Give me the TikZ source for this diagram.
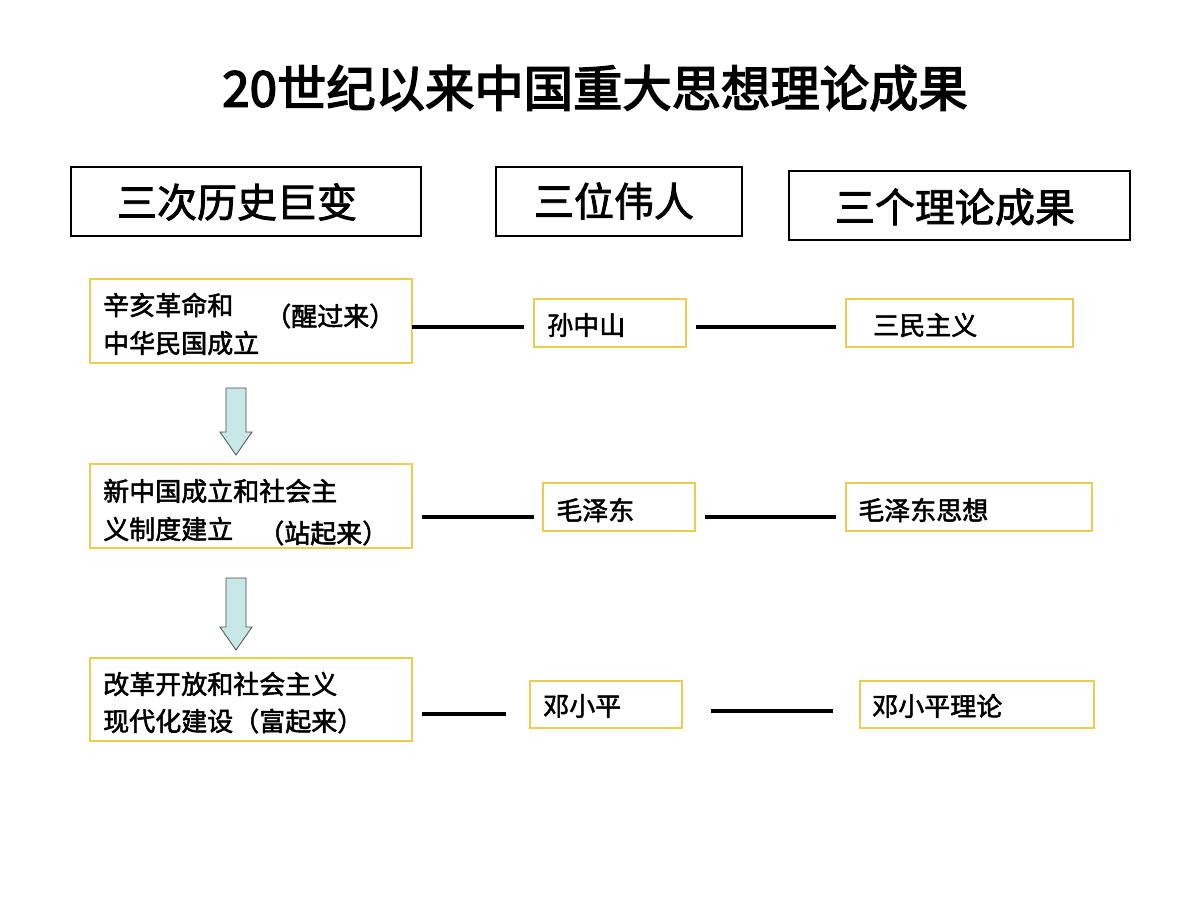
\documentclass[tikz,border=0pt]{standalone}
\usepackage{fontspec}
\newfontfamily\cjk{Noto Sans CJK SC}[FakeBold=2]
\newfontfamily\cjkt{Noto Sans CJK SC}[FakeBold=3]
\begin{document}
\begin{tikzpicture}[x=0.75pt,y=-0.75pt,
  hdr/.style={draw=black,line width=0.8pt},
  ybox/.style={draw={rgb,255:red,235;green,205;blue,80},line width=1pt},
  conn/.style={line width=2.4pt},
  txt/.style={anchor=west,inner sep=0pt,font=\cjk\fontsize{19.5}{22}\selectfont},
  htxt/.style={inner sep=0pt,font=\cjk\fontsize{30}{34}\selectfont},
  blk/.style={fill={rgb,255:red,200;green,232;blue,232},draw=black!70,line width=0.6pt}]
\useasboundingbox (0,0) rectangle (1200,900);
\node[font=\cjkt\fontsize{37}{40}\selectfont,inner sep=0pt] (title) at (595,88) {20世纪以来中国重大思想理论成果};
% headers
\draw[hdr] (71,167) rectangle (421,236); \node[htxt] (h1) at (237,202) {三次历史巨变};
\draw[hdr] (496,167) rectangle (742,236); \node[htxt] (h2) at (614,201) {三位伟人};
\draw[hdr] (789,171) rectangle (1130,240); \node[htxt] (h3) at (955,207) {三个理论成果};
% row 1
\node[ybox,minimum width=322pt*0.75,minimum height=84pt*0.75,inner sep=0pt] (L1) at (251,321) {};
\node[txt] (l1a) at (103,305) {辛亥革命和};
\node[txt] (l1b) at (265,316) {（醒过来）};
\node[txt] (l1c) at (103,343) {中华民国成立};
\node[ybox,minimum width=152pt*0.75,minimum height=48pt*0.75,inner sep=0pt] (M1) at (610,323) {};
\node[txt] (m1) at (547,325) {孙中山};
\node[ybox,minimum width=227pt*0.75,minimum height=48pt*0.75,inner sep=0pt] (R1) at (959.5,323) {};
\node[txt] (r1) at (873,325) {三民主义};
\coordinate (a1) at (412,327); \coordinate (b1) at (524,327);
\coordinate (c1) at (696,327); \coordinate (d1) at (836,327);
\draw[conn] (a1) -- (b1); \draw[conn] (c1) -- (d1);
% row 2
\node[ybox,minimum width=322pt*0.75,minimum height=84pt*0.75,inner sep=0pt] (L2) at (251,506) {};
\node[txt] (l2a) at (103,491) {新中国成立和社会主};
\node[txt] (l2b) at (103,529) {义制度建立};
\node[txt] (l2c) at (258,533) {（站起来）};
\node[ybox,minimum width=152pt*0.75,minimum height=48pt*0.75,inner sep=0pt] (M2) at (619,507) {};
\node[txt] (m2) at (556,510) {毛泽东};
\node[ybox,minimum width=246pt*0.75,minimum height=48pt*0.75,inner sep=0pt] (R2) at (969,507) {};
\node[txt] (r2) at (858,510) {毛泽东思想};
\coordinate (a2) at (422,517); \coordinate (b2) at (534,517);
\coordinate (c2) at (705,517); \coordinate (d2) at (836,517);
\draw[conn] (a2) -- (b2); \draw[conn] (c2) -- (d2);
% row 3
\node[ybox,minimum width=322pt*0.75,minimum height=83pt*0.75,inner sep=0pt] (L3) at (251,699.5) {};
\node[txt] (l3a) at (103,684) {改革开放和社会主义};
\node[txt] (l3b) at (103,721) {现代化建设（富起来）};
\node[ybox,minimum width=152pt*0.75,minimum height=47pt*0.75,inner sep=0pt] (M3) at (606,704.5) {};
\node[txt] (m3) at (543,706) {邓小平};
\node[ybox,minimum width=234pt*0.75,minimum height=47pt*0.75,inner sep=0pt] (R3) at (977,704.5) {};
\node[txt] (r3) at (872,706) {邓小平理论};
\coordinate (a3) at (422,714); \coordinate (b3) at (506,714);
\coordinate (c3) at (711,711); \coordinate (d3) at (833,711);
\draw[conn] (a3) -- (b3); \draw[conn] (c3) -- (d3);
% block arrows
\draw[blk] (226,388) -- (246,388) -- (246,432) -- (252,432) -- (236,455) -- (220,432) -- (226,432) -- cycle;
\draw[blk] (226,578) -- (246,578) -- (246,627) -- (252,627) -- (236,650) -- (220,627) -- (226,627) -- cycle;
\end{tikzpicture}
\end{document}
